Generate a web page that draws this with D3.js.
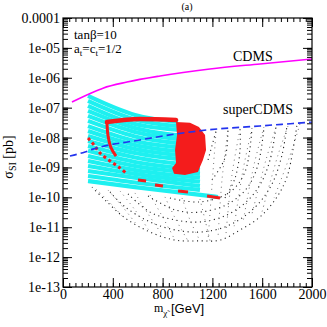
<!DOCTYPE html>
<html>
<head>
<meta charset="utf-8">
<script src="https://cdn.jsdelivr.net/npm/d3@7"></script>
<style>
  html, body { margin: 0; padding: 0; background: #fff; }
  svg { display: block; }
  text { font-family: "Liberation Serif", "Times New Roman", serif; }
</style>
</head>
<body>
<svg id="chart" width="327" height="327"></svg>
<script>
// axis ticks
const xMajor = [0, 400, 800, 1200, 1600, 2000];
const yMajor = [1e-4, 1e-5, 1e-6, 1e-7, 1e-8, 1e-9, 1e-10, 1e-11, 1e-12, 1e-13];
const yTickLabels = ['0.0001', '1e-05', '1e-06', '1e-07', '1e-08', '1e-09', '1e-10', '1e-11', '1e-12', '1e-13'];

// exclusion limits [mass GeV, sigma pb]
const cdms = [[72, 1.55e-7], [241, 3.3e-7], [321, 4.5e-7], [514, 7.2e-7], [779, 1.15e-6], [1180, 1.97e-6], [1582, 2.9e-6], [2000, 4.25e-6]];
const superCdms = [[56, 2.4e-9], [177, 3.3e-9], [241, 4.1e-9], [618, 8.3e-9], [803, 1.13e-8], [1156, 1.79e-8], [1582, 2.44e-8], [2000, 3.3e-8]];

// cyan scan bands: start at m=201, pass m=578, end at cyanEndMass
const cyanLeftMass = 201;
const cyanMidMass = 578;
const cyanLeftSigma = [2.46e-7, 1.68e-7, 1.14e-7, 7.8e-8, 5.3e-8, 3.6e-8, 2.4e-8, 1.66e-8, 1.13e-8, 7.7e-9, 5.2e-9, 3.6e-9, 2.4e-9, 1.65e-9, 1.12e-9, 7.6e-10, 5.2e-10, 3.5e-10];
const cyanMidSigma = [5.7e-8, 4.0e-8, 2.85e-8, 2.1e-8, 1.54e-8, 1.09e-8, 7.7e-9, 5.65e-9, 4.16e-9, 3.05e-9, 2.16e-9, 1.53e-9, 1.12e-9, 8.2e-10, 6.1e-10, 4.5e-10, 3.15e-10, 2.2e-10];
const cyanEndMass = [924, 1004, 1060, 1100, 1100, 1100, 1100, 1100, 1100, 1100, 1100, 1100, 1100, 1100, 1100, 1100, 1100, 1245];
const cyanEndSigma = [3.3e-8, 2.26e-8, 1.66e-8, 1.05e-8, 7.7e-9, 5.65e-9, 4.16e-9, 3.05e-9, 2.24e-9, 1.65e-9, 1.12e-9, 8.2e-10, 6.1e-10, 4.5e-10, 3.3e-10, 2.4e-10, 1.77e-10, 1.03e-10];

// red points
const redTop = [[353, 3.3e-8], [618, 4.2e-8], [908, 3.9e-8]];
const redLeft = [[353, 3.3e-8], [361, 1.22e-8], [386, 4.5e-9], [426, 2.4e-9]];
const redDiag = [[201, 9.7e-9], [249, 5.65e-9], [297, 3.05e-9], [378, 1.65e-9], [458, 9.6e-10], [514, 6.1e-10]];
const redBlob = [[908, 3.3e-8], [1020, 3.1e-8], [1092, 2.26e-8], [1141, 1.22e-8], [1149, 3.85e-9], [1124, 1.78e-9], [1100, 1.04e-9], [1084, 7.1e-10], [980, 5.6e-10], [892, 6.1e-10], [876, 9.6e-10], [908, 1.41e-9], [900, 3.85e-9], [916, 1.22e-8]];
const redBits = [
  [[602, 3.8e-10], [667, 3.5e-10]],
  [[739, 2.6e-10], [803, 2.4e-10]],
  [[924, 1.64e-10], [1004, 1.51e-10]],
  [[1157, 1.11e-10], [1261, 9.5e-11]]
];

// black points, as rows of the scan grid
const dotArcs = [
  [[233, 2.2e-10], [337, 8.2e-11], [498, 2.04e-11], [699, 6.9e-12], [900, 3.7e-12], [1100, 3.5e-12], [1261, 3.7e-12], [1422, 8.1e-12], [1582, 2.2e-11], [1719, 1.03e-10], [1799, 4.8e-10], [1847, 3.85e-9], [1879, 2.64e-8]],
  [[378, 1.51e-10], [498, 4.8e-11], [699, 1.5e-11], [900, 8.1e-12], [1100, 6.9e-12], [1277, 9.4e-12], [1438, 2.04e-11], [1582, 7.0e-11], [1687, 3.3e-10], [1759, 2.62e-9], [1799, 2.44e-8]],
  [[522, 1.3e-10], [699, 3.2e-11], [900, 1.75e-11], [1100, 1.5e-11], [1301, 2.4e-11], [1462, 6.5e-11], [1582, 2.6e-10], [1663, 1.78e-9], [1711, 2.26e-8]],
  [[683, 1.11e-10], [900, 3.8e-11], [1100, 3.2e-11], [1325, 6.0e-11], [1478, 2.06e-10], [1566, 1.21e-9], [1614, 2.09e-8]],
  [[859, 9.5e-11], [1100, 7.0e-11], [1341, 1.51e-10], [1462, 7.1e-10], [1518, 2.09e-8]],
  [[1301, 9.5e-11], [1382, 4.4e-10], [1422, 3.85e-9], [1422, 1.94e-8]],
  [[1197, 3.8e-10], [1301, 2.08e-9], [1325, 1.79e-8]],
  [[1165, 1.78e-9], [1229, 1.66e-8]]
];
const dotRays = [
  [[265, 1.9e-10], [378, 6.5e-11], [474, 2.4e-11]],
  [[361, 1.76e-10], [474, 5.1e-11], [594, 1.19e-11]],
  [[458, 1.63e-10], [578, 3.8e-11], [699, 6.9e-12]],
  [[578, 1.4e-10], [683, 2.8e-11], [803, 5.1e-12]],
  [[699, 1.2e-10], [795, 2.4e-11], [900, 3.7e-12]],
  [[819, 1.03e-10], [900, 2.04e-11], [1004, 3.5e-12]],
  [[956, 9.5e-11], [1020, 1.75e-11], [1100, 3.5e-12]],
  [[1100, 8.8e-11], [1141, 1.75e-11], [1181, 3.5e-12]],
  [[1229, 1.54e-8], [1197, 2.6e-10], [1165, 3.7e-12]],
  [[1325, 1.79e-8], [1277, 3.8e-10], [1245, 4.4e-12]],
  [[1422, 1.94e-8], [1357, 5.6e-10], [1309, 5.9e-12]],
  [[1518, 2.09e-8], [1446, 8.2e-10], [1373, 9.4e-12]],
  [[1614, 2.26e-8], [1534, 1.21e-9], [1446, 1.5e-11]],
  [[1711, 2.26e-8], [1630, 1.78e-9], [1518, 2.8e-11]],
  [[1807, 2.44e-8], [1727, 2.62e-9], [1598, 3.2e-11]],
  [[1903, 2.85e-8], [1839, 3.85e-9], [1695, 9.5e-11]]
];

const svg = d3.select('#chart');
svg.append('rect').attr('width', 327).attr('height', 327).attr('fill', '#fff');

const x = d3.scaleLinear().domain([0, 2000]).range([63, 312]);
const y = d3.scaleLog().domain([1e-13, 1e-4]).range([287, 18]);

const plot = svg.append('g');
const smooth = d3.line().x((d) => x(d[0])).y((d) => y(d[1])).curve(d3.curveCatmullRom.alpha(0.5));
const mono = d3.line().x((d) => x(d[0])).y((d) => y(d[1])).curve(d3.curveMonotoneX);

// black dots
plot.append('g').selectAll('path')
  .data(dotArcs)
  .enter()
  .append('path')
  .attr('d', smooth)
  .attr('fill', 'none')
  .attr('stroke', '#222')
  .attr('stroke-width', 1.1)
  .attr('stroke-dasharray', '1.1,3.6');
plot.append('g').selectAll('path')
  .data(dotRays)
  .enter()
  .append('path')
  .attr('d', smooth)
  .attr('fill', 'none')
  .attr('stroke', '#777')
  .attr('stroke-width', 1)
  .attr('stroke-dasharray', '1,4.2');

// cyan bands
const bands = cyanLeftSigma.map((s, i) => [
  [cyanLeftMass, s], [cyanMidMass, cyanMidSigma[i]], [cyanEndMass[i], cyanEndSigma[i]]
]);
plot.append('g').selectAll('path')
  .data(bands)
  .enter()
  .append('path')
  .attr('d', mono)
  .attr('fill', 'none')
  .attr('stroke', '#1ef0f0')
  .attr('stroke-width', 4.1);

// red
const red = '#f41c1c';
plot.append('path').datum(redBlob)
  .attr('d', d3.line().x((d) => x(d[0])).y((d) => y(d[1])).curve(d3.curveLinearClosed))
  .attr('fill', red);
plot.append('path').datum(redTop).attr('d', mono)
  .attr('fill', 'none').attr('stroke', red).attr('stroke-width', 4.5).attr('stroke-linecap', 'round');
plot.append('path').datum(redLeft).attr('d', smooth)
  .attr('fill', 'none').attr('stroke', red).attr('stroke-width', 3);
plot.append('path').datum(redDiag).attr('d', smooth)
  .attr('fill', 'none').attr('stroke', red).attr('stroke-width', 3).attr('stroke-dasharray', '3,3');
plot.append('g').selectAll('path')
  .data(redBits)
  .enter()
  .append('path')
  .attr('d', smooth)
  .attr('fill', 'none')
  .attr('stroke', red)
  .attr('stroke-width', 3);

// limit curves
plot.append('path').datum(cdms).attr('d', mono)
  .attr('fill', 'none').attr('stroke', '#ff00ff').attr('stroke-width', 1.6);
plot.append('path').datum(superCdms).attr('d', mono)
  .attr('fill', 'none').attr('stroke', '#2233ee').attr('stroke-width', 1.6)
  .attr('stroke-dasharray', '7,4');

// axes: ticks inside on all four sides
function clean(g) {
  g.select('.domain').remove();
  g.selectAll('line').attr('stroke', '#000');
  g.attr('font-family', '"Liberation Serif", "Times New Roman", serif').attr('font-size', 14);
  g.selectAll('text').attr('fill', '#000');
}
const fmtY = (d) => yTickLabels[yMajor.indexOf(d)];
svg.append('g').attr('transform', 'translate(63,0)')
  .call(d3.axisLeft(y).tickValues(y.ticks()).tickSize(-5).tickFormat('')).call(clean);
svg.append('g').attr('transform', 'translate(63,0)')
  .call(d3.axisLeft(y).tickValues(yMajor).tickSize(-9).tickPadding(3).tickFormat(fmtY)).call(clean);
svg.append('g').attr('transform', 'translate(312,0)')
  .call(d3.axisRight(y).tickValues(y.ticks()).tickSize(-5).tickFormat('')).call(clean);
svg.append('g').attr('transform', 'translate(312,0)')
  .call(d3.axisRight(y).tickValues(yMajor).tickSize(-9).tickFormat('')).call(clean);

const xMinor = d3.range(0, 2001, 50);
svg.append('g').attr('transform', 'translate(0,287)')
  .call(d3.axisBottom(x).tickValues(xMinor).tickSize(-4).tickFormat('')).call(clean);
svg.append('g').attr('transform', 'translate(0,287)')
  .call(d3.axisBottom(x).tickValues(xMajor).tickSize(-9).tickPadding(2).tickFormat(d3.format('d'))).call(clean);
svg.append('g').attr('transform', 'translate(0,18)')
  .call(d3.axisTop(x).tickValues(xMinor).tickSize(-4).tickFormat('')).call(clean);
svg.append('g').attr('transform', 'translate(0,18)')
  .call(d3.axisTop(x).tickValues(xMajor).tickSize(-9).tickFormat('')).call(clean);

svg.append('rect')
  .attr('x', x(0)).attr('y', y(1e-4))
  .attr('width', x(2000) - x(0)).attr('height', y(1e-13) - y(1e-4))
  .attr('fill', 'none').attr('stroke', '#000').attr('stroke-width', 1.2);

// labels
svg.append('text').attr('x', 187).attr('y', 10).attr('text-anchor', 'middle')
  .attr('font-size', 10).text('(a)');
svg.append('text').attr('x', 74).attr('y', 39).attr('font-size', 13).text('tanβ=10');
const at = svg.append('text').attr('x', 74).attr('y', 53).attr('font-size', 13);
at.append('tspan').text('a');
at.append('tspan').attr('font-size', 9).attr('dy', 3).text('t');
at.append('tspan').attr('dy', -3).text('=c');
at.append('tspan').attr('font-size', 9).attr('dy', 3).text('t');
at.append('tspan').attr('dy', -3).text('=1/2');

svg.append('text').attr('x', 233).attr('y', 61).attr('font-size', 14).text('CDMS');
svg.append('text').attr('x', 223).attr('y', 114).attr('font-size', 14).text('superCDMS');

const yl = svg.append('text').attr('transform', 'translate(13,157) rotate(-90)')
  .attr('text-anchor', 'middle').attr('font-size', 14);
yl.append('tspan').text('σ');
yl.append('tspan').attr('font-size', 10).attr('dy', 3).text('SI');
yl.append('tspan').attr('dy', -3).text(' [pb]');

const xl = svg.append('text').attr('x', 154).attr('y', 312).attr('font-size', 12);
xl.append('tspan').text('m');
xl.append('tspan').attr('font-size', 9).attr('dy', 4).text('χ̃');
xl.append('tspan').attr('dy', -3)
  .attr('font-family', '"Liberation Sans", Arial, sans-serif').attr('font-size', 13).text(' [GeV]');
</script>
</body>
</html>
